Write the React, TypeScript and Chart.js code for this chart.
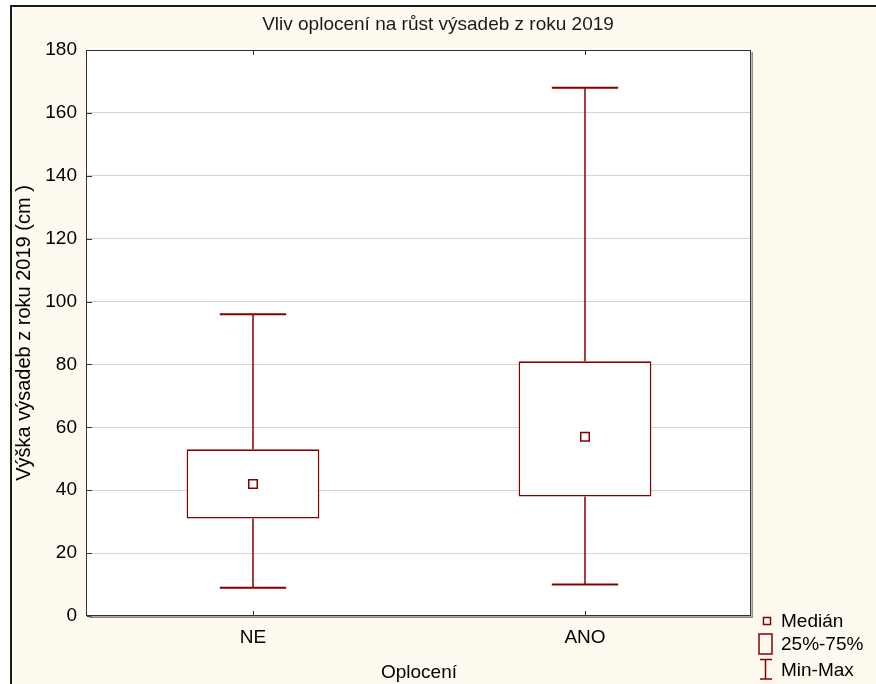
import { useEffect, useRef } from 'react';
import { Chart, registerables } from 'chart.js';

Chart.register(...registerables);

const chartTitle = 'Vliv oplocení na růst výsadeb z roku 2019';
const xAxisTitle = 'Oplocení';
const yAxisTitle = 'Výška výsadeb z roku 2019 (cm )';
const categories = ['NE', 'ANO'];
const minValues = [9, 10];
const q1Values = [31, 38];
const medianValues = [42, 57];
const q3Values = [53, 81];
const maxValues = [96, 168];
const yMin = 0;
const yMax = 180;
const yStep = 20;
const legendLabels = ['Medián', '25%-75%', 'Min-Max'];

const FONT = "'Liberation Sans', Arial, sans-serif";
const MAROON = '#880000';
const CREAM = '#fffaf0';

const framePlugin = {
  id: 'frame',
  beforeDraw(chart: any) {
    const { ctx, width, height, chartArea: a } = chart;
    ctx.save();
    ctx.fillStyle = '#ffffff';
    ctx.fillRect(0, 0, width, height);
    ctx.fillStyle = CREAM;
    ctx.fillRect(11, 6, width - 11, height - 6);
    ctx.strokeStyle = '#1a1a1a';
    ctx.lineWidth = 2;
    ctx.beginPath();
    ctx.moveTo(11, height + 4);
    ctx.lineTo(11, 6);
    ctx.lineTo(width + 4, 6);
    ctx.stroke();
    ctx.fillStyle = '#ffffff';
    ctx.fillRect(a.left, a.top, a.right - a.left, a.bottom - a.top);
    ctx.restore();
  },
};

const whiskerPlugin = {
  id: 'whiskers',
  beforeDatasetsDraw(chart: any) {
    const { ctx } = chart;
    const xs = chart.scales.x;
    const ys = chart.scales.y;
    const boxMeta = chart.getDatasetMeta(1);
    ctx.save();
    ctx.strokeStyle = MAROON;
    categories.forEach((_, i) => {
      const x = xs.getPixelForValue(i);
      const bw = boxMeta.data[i] ? boxMeta.data[i].width : 100;
      const capHalf = bw / 4;
      const yMaxP = ys.getPixelForValue(maxValues[i]);
      const yQ3 = ys.getPixelForValue(q3Values[i]);
      const yQ1 = ys.getPixelForValue(q1Values[i]);
      const yMinP = ys.getPixelForValue(minValues[i]);
      ctx.lineWidth = 1.5;
      ctx.beginPath();
      ctx.moveTo(x, yQ3);
      ctx.lineTo(x, yMaxP);
      ctx.moveTo(x, yQ1);
      ctx.lineTo(x, yMinP);
      ctx.stroke();
      ctx.lineWidth = 2;
      ctx.beginPath();
      ctx.moveTo(x - capHalf, yMaxP);
      ctx.lineTo(x + capHalf, yMaxP);
      ctx.moveTo(x - capHalf, yMinP);
      ctx.lineTo(x + capHalf, yMinP);
      ctx.stroke();
    });
    ctx.restore();
  },
};

const borderPlugin = {
  id: 'plotBorder',
  afterDraw(chart: any) {
    const { ctx, chartArea: a } = chart;
    const xs = chart.scales.x;
    const ys = chart.scales.y;
    ctx.save();
    // inward ticks
    ctx.strokeStyle = '#333333';
    ctx.lineWidth = 1;
    ctx.beginPath();
    xs.ticks.forEach((_: any, i: number) => {
      const x = Math.round(xs.getPixelForTick(i)) + 0.5;
      ctx.moveTo(x, a.top);
      ctx.lineTo(x, a.top + 5);
      ctx.moveTo(x, a.bottom);
      ctx.lineTo(x, a.bottom - 5);
    });
    ys.ticks.forEach((_: any, i: number) => {
      const y = Math.round(ys.getPixelForTick(i)) + 0.5;
      ctx.moveTo(a.left, y);
      ctx.lineTo(a.left + 5, y);
    });
    ctx.stroke();
    // shadow
    ctx.strokeStyle = '#8a8a8a';
    ctx.lineWidth = 1.5;
    ctx.beginPath();
    ctx.moveTo(a.left + 2, a.bottom + 1.2);
    ctx.lineTo(a.right + 1.2, a.bottom + 1.2);
    ctx.lineTo(a.right + 1.2, a.top + 2);
    ctx.stroke();
    // border
    ctx.strokeStyle = '#333333';
    ctx.lineWidth = 1;
    ctx.strokeRect(Math.round(a.left) - 0.5, Math.round(a.top) + 0.5, Math.round(a.right - a.left), Math.round(a.bottom - a.top) - 1);
    ctx.restore();

    // legend
    const lx = a.right + 8;
    const by = a.bottom;
    ctx.save();
    ctx.strokeStyle = MAROON;
    ctx.fillStyle = '#ffffff';
    ctx.lineWidth = 1.5;
    ctx.fillRect(lx + 4.5, by + 1.5, 7, 7);
    ctx.strokeRect(lx + 4.5, by + 1.5, 7, 7);
    ctx.strokeRect(lx, by + 18, 13, 20);
    ctx.beginPath();
    ctx.moveTo(lx + 6.5, by + 43.5);
    ctx.lineTo(lx + 6.5, by + 63);
    ctx.moveTo(lx + 1, by + 43.5);
    ctx.lineTo(lx + 13, by + 43.5);
    ctx.moveTo(lx + 1, by + 63);
    ctx.lineTo(lx + 13, by + 63);
    ctx.stroke();
    ctx.fillStyle = '#000000';
    ctx.font = `19px ${FONT}`;
    ctx.textAlign = 'left';
    ctx.textBaseline = 'middle';
    ctx.fillText(legendLabels[0], lx + 22, by + 5.5);
    ctx.fillText(legendLabels[1], lx + 22, by + 28.5);
    ctx.fillText(legendLabels[2], lx + 22, by + 54.5);
    ctx.restore();
  },
};

export default function App() {
  const canvasRef = useRef<HTMLCanvasElement | null>(null);

  useEffect(() => {
    document.body.style.margin = '0';
    const canvas = canvasRef.current;
    if (!canvas) return;
    const font = { family: FONT, size: 19, weight: 'normal' as const };
    const chart = new Chart(canvas, {
      type: 'bar',
      data: {
        labels: categories,
        datasets: [
          {
            type: 'line',
            label: legendLabels[0],
            data: medianValues,
            showLine: false,
            pointStyle: 'rect',
            pointRadius: 6,
            pointBorderWidth: 1.5,
            pointBackgroundColor: '#ffffff',
            pointBorderColor: MAROON,
            order: 0,
          } as any,
          {
            type: 'bar',
            label: legendLabels[1],
            data: categories.map((_, i) => [q1Values[i], q3Values[i]]),
            backgroundColor: '#ffffff',
            borderColor: MAROON,
            borderWidth: 1.6,
            borderSkipped: false,
            barPercentage: 0.4,
            categoryPercentage: 1,
            order: 1,
          } as any,
        ],
      },
      options: {
        responsive: false,
        animation: false,
        events: [],
        layout: { padding: 0 },
        plugins: {
          legend: { display: false },
          tooltip: { enabled: false },
          title: {
            display: true,
            text: chartTitle,
            color: '#1a1a1a',
            font,
            padding: { top: 13, bottom: 14.2 },
          },
        },
        scales: {
          x: {
            offset: true,
            grid: { display: false, drawTicks: false },
            border: { display: false },
            ticks: { padding: 10, color: '#000000', font },
            title: {
              display: true,
              text: xAxisTitle,
              color: '#000000',
              font,
              padding: { top: 0, bottom: 0 },
            },
            afterFit: (s: any) => {
              s.height = 68;
            },
          },
          y: {
            min: yMin,
            max: yMax,
            ticks: { stepSize: yStep, padding: 10, color: '#000000', font },
            grid: { color: '#d4d4d4', lineWidth: 1, drawTicks: false },
            border: { display: false },
            title: {
              display: true,
              text: yAxisTitle,
              color: '#000000',
              font: { family: FONT, size: 20, weight: 'normal' },
              padding: { top: 12.5, bottom: 0 },
            },
            afterFit: (s: any) => {
              s.width = 87;
            },
          },
          y2: {
            position: 'right',
            display: true,
            grid: { display: false, drawTicks: false },
            border: { display: false },
            ticks: { display: false },
            afterFit: (s: any) => {
              s.width = 125;
            },
          },
        },
      } as any,
      plugins: [framePlugin, whiskerPlugin, borderPlugin],
    });
    return () => chart.destroy();
  }, []);

  return (
    <canvas
      ref={canvasRef}
      width={876}
      height={684}
      style={{ position: 'fixed', left: 0, top: 0, display: 'block', width: 876, height: 684 }}
    />
  );
}
